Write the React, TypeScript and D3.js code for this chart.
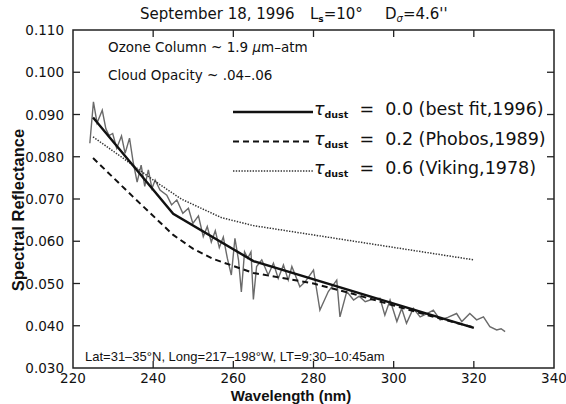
import React from "react";
import * as d3 from "d3";

const W = 566, H = 404;
const xTicks = [220, 240, 260, 280, 300, 320, 340];
const yTicks = [0.03, 0.04, 0.05, 0.06, 0.07, 0.08, 0.09, 0.1, 0.11];

const bestFit: [number, number][] = [
  [225, 0.0893], [245, 0.0665], [265, 0.0553], [320, 0.0395],
];
const phobos: [number, number][] = [
  [225, 0.0797], [235, 0.0705], [245, 0.0615], [250, 0.0582], [255, 0.0558],
  [265, 0.0525], [280, 0.0500], [290, 0.0475], [300, 0.0448], [310, 0.0421], [320, 0.0396],
];
const viking: [number, number][] = [
  [225, 0.0847], [232, 0.0800], [240, 0.0745], [247, 0.0700], [257, 0.0656],
  [265, 0.0637], [320, 0.0556],
];
const observed: [number, number][] = [
  [224.2, 0.0832], [225.1, 0.0930], [226.0, 0.0880], [227.3, 0.0910], [228.2, 0.0866],
  [229.0, 0.0850], [229.9, 0.0855], [230.9, 0.0820], [232.1, 0.0849], [233.0, 0.0808],
  [234.1, 0.0844], [235.0, 0.0788], [236.0, 0.0740], [237.0, 0.0780], [237.9, 0.0730],
  [238.8, 0.0769], [239.7, 0.0725], [240.5, 0.0745], [241.7, 0.0721], [243.4, 0.0709],
  [244.6, 0.0686], [245.9, 0.0698], [247.4, 0.0666], [248.8, 0.0678], [249.9, 0.0642],
  [251.3, 0.0660], [252.5, 0.0611], [253.5, 0.0635], [254.5, 0.0598], [255.5, 0.0625],
  [256.5, 0.0585], [257.5, 0.0610], [258.5, 0.0560], [259.5, 0.0520], [260.4, 0.0607],
  [261.3, 0.0555], [262.0, 0.0480], [262.8, 0.0575], [263.6, 0.0560], [264.4, 0.0575],
  [265.0, 0.0462], [265.8, 0.0540], [267.1, 0.0556], [268.7, 0.0520], [270.0, 0.0548],
  [271.2, 0.0512], [272.5, 0.0544], [273.7, 0.0508], [274.6, 0.0540], [276.6, 0.0492],
  [277.9, 0.0504], [280.0, 0.0532], [281.6, 0.0437], [283.7, 0.0481], [285.8, 0.0508],
  [286.6, 0.0421], [288.3, 0.0481], [290.0, 0.0461], [291.4, 0.0470], [292.9, 0.0457],
  [294.5, 0.0462], [296.6, 0.0465], [297.8, 0.0425], [299.1, 0.0461], [300.8, 0.0410],
  [302.0, 0.0441], [303.2, 0.0406], [304.9, 0.0441], [306.6, 0.0421], [308.2, 0.0428],
  [309.9, 0.0437], [311.6, 0.0414], [313.5, 0.0420], [315.7, 0.0429], [317.0, 0.0410],
  [319.0, 0.0429], [320.7, 0.0414], [322.4, 0.0421], [324.0, 0.0398], [325.7, 0.0390],
  [326.8, 0.0393], [327.8, 0.0386],
];

const legend = [
  { dash: "none", width: 2.4, color: "#111", text: "0.0 (best fit,1996)" },
  { dash: "6,4", width: 2, color: "#111", text: "0.2 (Phobos,1989)" },
  { dash: "1.4,1.4", width: 1.5, color: "#333", text: "0.6 (Viking,1978)" },
];

export default function App() {
  const left = 73, right = 554, top = 30, bottom = 368;
  const x = d3.scaleLinear().domain([220, 340]).range([left, right]);
  const y = d3.scaleLinear().domain([0.03, 0.11]).range([bottom, top]);
  const line = d3.line<[number, number]>().x((d) => x(d[0])).y((d) => y(d[1]));
  const font = "'Liberation Sans', Arial, sans-serif";
  const dv = "'DejaVu Sans', sans-serif";
  const tl = 7;
  return (
    <svg width={W} height={H} style={{ position: "absolute", left: 0, top: 0, background: "#fff" }} fontFamily={font}>
      <rect x={0} y={0} width={W} height={H} fill="#fff" />
      {/* title */}
      <g fontFamily={dv} fontSize={15} fill="#111">
        <text x={140} y={19}>September 18, 1996</text>
        <text x={310} y={19}>
          L<tspan fontSize={9} dy={3} fontWeight="bold">s</tspan><tspan dy={-3}>=10°</tspan>
        </text>
        <text x={385} y={19}>
          D<tspan fontSize={10} dy={3} fontStyle="italic">σ</tspan><tspan dy={-3}>=4.6''</tspan>
        </text>
      </g>
      {/* frame */}
      <rect x={left} y={top} width={right - left} height={bottom - top} fill="none" stroke="#222" strokeWidth={1.5} />
      {xTicks.slice(1, -1).map((t) => (
        <g key={"xt" + t}>
          <line x1={x(t)} x2={x(t)} y1={bottom} y2={bottom - tl} stroke="#222" strokeWidth={1.3} />
          <line x1={x(t)} x2={x(t)} y1={top} y2={top + tl} stroke="#222" strokeWidth={1.3} />
        </g>
      ))}
      {yTicks.slice(1, -1).map((t) => (
        <g key={"yt" + t}>
          <line x1={left} x2={left + tl} y1={y(t)} y2={y(t)} stroke="#222" strokeWidth={1.3} />
          <line x1={right} x2={right - tl} y1={y(t)} y2={y(t)} stroke="#222" strokeWidth={1.3} />
        </g>
      ))}
      <g fontFamily={dv} fontSize={13.5} fill="#111">
        {xTicks.map((t) => (
          <text key={"xl" + t} x={x(t)} y={383} textAnchor="middle">{t}</text>
        ))}
        {yTicks.map((t) => (
          <text key={"yl" + t} x={64} y={y(t) + 5} textAnchor="end">{t.toFixed(3)}</text>
        ))}
      </g>
      <text x={291} y={400.5} fontSize={15} fontWeight="bold" textAnchor="middle" fill="#111">Wavelength (nm)</text>
      <text transform="translate(24,210) rotate(-90)" fontSize={16.5} fontWeight="bold" textAnchor="middle" fill="#111">Spectral Reflectance</text>
      {/* annotations */}
      <g fontFamily={dv} fontSize={13.5} fill="#111">
        <text x={108} y={52}>Ozone Column ~ 1.9 <tspan fontStyle="italic">μ</tspan>m–atm</text>
        <text x={108} y={80}>Cloud Opacity ~ .04–.06</text>
      </g>
      <text x={85} y={361} fontSize={13} fill="#111">Lat=31–35°N, Long=217–198°W, LT=9:30–10:45am</text>
      {/* data */}
      <path d={line(observed) || ""} fill="none" stroke="#6a6a6a" strokeWidth={1.4} />
      <path d={line(viking) || ""} fill="none" stroke="#333" strokeWidth={1.5} strokeDasharray="1.4,1.4" />
      <path d={line(phobos) || ""} fill="none" stroke="#111" strokeWidth={2} strokeDasharray="6,4" />
      <path d={line(bestFit) || ""} fill="none" stroke="#111" strokeWidth={2.4} />
      {/* legend */}
      {legend.map((l, i) => {
        const ly = 112 + i * 29.5;
        return (
          <g key={"lg" + i}>
            <line x1={233} x2={313} y1={ly} y2={ly} stroke={l.color} strokeWidth={l.width} strokeDasharray={l.dash} />
            <text x={314} y={ly + 3} fontSize={17.5} fontFamily={dv} fill="#111" xmlSpace="preserve">
              <tspan fontStyle="italic">τ</tspan><tspan fontSize={9.5} dy={3} fontWeight="bold">dust</tspan>
              <tspan dy={-3}>{"  =  " + l.text}</tspan>
            </text>
          </g>
        );
      })}
    </svg>
  );
}
